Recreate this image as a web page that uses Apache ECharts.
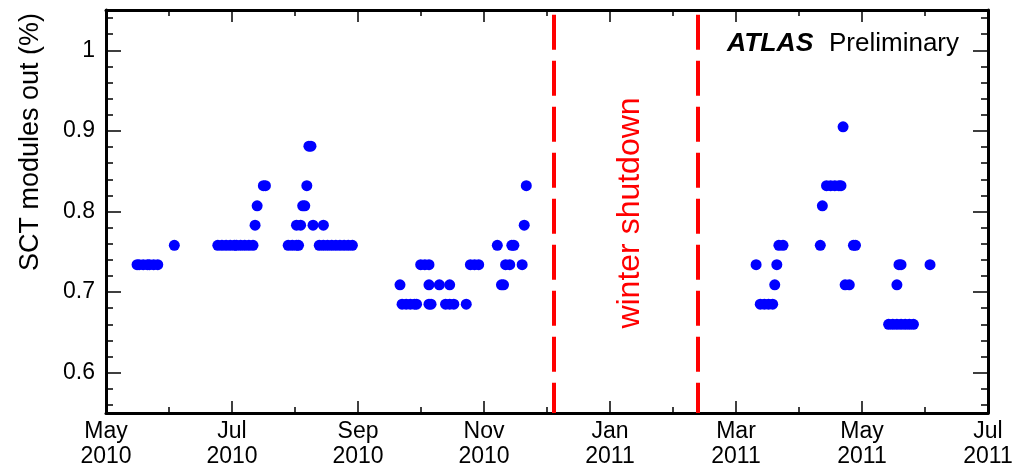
<!DOCTYPE html>
<html><head><meta charset="utf-8">
<script src="https://cdn.jsdelivr.net/npm/echarts@6/dist/echarts.min.js"></script>
<style>html,body{margin:0;padding:0;background:#fff}#c{width:1018px;height:469px}</style>
</head><body><div id="c"></div>
<script>
const FONT = '"Liberation Sans", Arial, Helvetica, sans-serif';

// ---- axis ranges and tick labels ----
const xStart = '2010-05-01';
const xEnd = '2011-07-01';
const xTickLabels = ['May\n2010', 'Jul\n2010', 'Sep\n2010', 'Nov\n2010', 'Jan\n2011', 'Mar\n2011', 'May\n2011', 'Jul\n2011'];
const yMin = 0.55, yMax = 1.05;
const yTickValues = [0.6, 0.7, 0.8, 0.9, 1.0];
const yTickLabels = ['0.6', '0.7', '0.8', '0.9', '1'];
const shutdownDates = ['2010-12-03 12:00', '2011-02-11'];

// ---- data: SCT modules out (%) ----
const summer2010Dates = [
  '2010-05-16', '2010-05-17', '2010-05-19', '2010-05-21', '2010-05-22', '2010-05-24', '2010-05-26',
  '2010-06-03',
  '2010-06-24', '2010-06-26', '2010-06-28', '2010-06-30', '2010-07-02', '2010-07-03', '2010-07-05', '2010-07-07', '2010-07-09', '2010-07-11',
  '2010-07-12', '2010-07-13', '2010-07-16', '2010-07-17',
  '2010-07-28', '2010-07-30', '2010-08-01', '2010-08-02',
  '2010-08-01', '2010-08-03', '2010-08-04', '2010-08-05', '2010-08-06', '2010-08-07', '2010-08-08',
  '2010-08-09', '2010-08-14',
  '2010-08-12', '2010-08-14', '2010-08-16', '2010-08-18', '2010-08-20', '2010-08-22', '2010-08-24', '2010-08-26', '2010-08-28'
];
const summer2010Values = [
  0.734, 0.734, 0.734, 0.734, 0.734, 0.734, 0.734,
  0.758,
  0.758, 0.758, 0.758, 0.758, 0.758, 0.758, 0.758, 0.758, 0.758, 0.758,
  0.783, 0.807, 0.832, 0.832,
  0.758, 0.758, 0.758, 0.758,
  0.783, 0.783, 0.807, 0.807, 0.832, 0.881, 0.881,
  0.783, 0.783,
  0.758, 0.758, 0.758, 0.758, 0.758, 0.758, 0.758, 0.758, 0.758
];

const autumn2010Dates = [
  '2010-09-20', '2010-09-21', '2010-09-23', '2010-09-25', '2010-09-27', '2010-09-28',
  '2010-09-30', '2010-10-02', '2010-10-04',
  '2010-10-04', '2010-10-05', '2010-10-04', '2010-10-09',
  '2010-10-12', '2010-10-14', '2010-10-16', '2010-10-14', '2010-10-22',
  '2010-10-24', '2010-10-26', '2010-10-28',
  '2010-11-06', '2010-11-08', '2010-11-09', '2010-11-10', '2010-11-12',
  '2010-11-13', '2010-11-14', '2010-11-18', '2010-11-19', '2010-11-20'
];
const autumn2010Values = [
  0.709, 0.685, 0.685, 0.685, 0.685, 0.685,
  0.734, 0.734, 0.734,
  0.685, 0.685, 0.709, 0.709,
  0.685, 0.685, 0.685, 0.709, 0.685,
  0.734, 0.734, 0.734,
  0.758, 0.709, 0.709, 0.734, 0.734,
  0.758, 0.758, 0.734, 0.783, 0.832
];

const spring2011Dates = [
  '2011-03-11', '2011-03-13', '2011-03-15', '2011-03-17', '2011-03-19',
  '2011-03-20', '2011-03-21', '2011-03-22', '2011-03-24',
  '2011-04-11', '2011-04-12', '2011-04-14', '2011-04-16', '2011-04-18', '2011-04-20', '2011-04-21',
  '2011-04-22', '2011-04-23', '2011-04-25', '2011-04-27', '2011-04-28',
  '2011-05-14', '2011-05-16', '2011-05-18', '2011-05-20', '2011-05-22', '2011-05-24', '2011-05-26',
  '2011-05-18', '2011-05-19', '2011-05-20', '2011-06-03'
];
const spring2011Values = [
  0.734, 0.685, 0.685, 0.685, 0.685,
  0.709, 0.734, 0.758, 0.758,
  0.758, 0.807, 0.832, 0.832, 0.832, 0.832, 0.832,
  0.905, 0.709, 0.709, 0.758, 0.758,
  0.660, 0.660, 0.660, 0.660, 0.660, 0.660, 0.660,
  0.709, 0.734, 0.734, 0.734
];

// ---- helpers ----
function toTime(s) {
  const m = s.match(/(\d+)-(\d+)-(\d+)(?:\s+(\d+):(\d+))?/);
  return new Date(+m[1], +m[2] - 1, +m[3], +(m[4] || 0), +(m[5] || 0)).getTime();
}
const t0 = toTime(xStart), t1 = toTime(xEnd);
const nMaj = xTickLabels.length - 1;
const majorX = xTickLabels.map((_, i) => Math.round(t0 + (t1 - t0) * i / nMaj));
const minorX = [];
for (let i = 0; i <= nMaj * 2; i++) minorX.push(Math.round(t0 + (t1 - t0) * i / (nMaj * 2)));
const minorY = [];
for (let v = 56; v <= 104; v += 2) minorY.push(v / 100);

function nearestIdx(arr, v) {
  let b = 0;
  arr.forEach((a, i) => { if (Math.abs(a - v) < Math.abs(arr[b] - v)) b = i; });
  return b;
}

const points = [];
[[summer2010Dates, summer2010Values], [autumn2010Dates, autumn2010Values], [spring2011Dates, spring2011Values]]
  .forEach(([d, v]) => d.forEach((s, i) => points.push([toTime(s), v[i]])));

const black = '#000';
const frameLine = { show: true, onZero: false, lineStyle: { color: black, width: 3 } };
const tickStyle = { color: black, width: 1.5 };
const lblFont = { fontSize: 23, fontFamily: FONT, color: black };

function xAx(pos, major) {
  return {
    type: 'value', position: pos, min: t0, max: t1, scale: true,
    axisLine: major ? frameLine : { show: false },
    axisTick: { show: true, inside: true, length: major ? 12 : 6, lineStyle: tickStyle, customValues: major ? majorX : minorX },
    axisLabel: (major && pos === 'bottom') ? Object.assign({
      show: true, customValues: majorX, formatter: v => xTickLabels[nearestIdx(majorX, v)], lineHeight: 25, margin: 6
    }, lblFont) : { show: false },
    splitLine: { show: false }, minorTick: { show: false }
  };
}
function yAx(pos, major) {
  return {
    type: 'value', position: pos, min: yMin, max: yMax,
    axisLine: major ? frameLine : { show: false },
    axisTick: { show: true, inside: true, length: major ? 15 : 7, lineStyle: tickStyle, customValues: major ? yTickValues : minorY },
    axisLabel: (major && pos === 'left') ? Object.assign({
      show: true, customValues: yTickValues, formatter: v => yTickLabels[nearestIdx(yTickValues, v)], margin: 11
    }, lblFont) : { show: false },
    splitLine: { show: false }, minorTick: { show: false }
  };
}

const chart = echarts.init(document.getElementById('c'), null, { renderer: 'canvas' });
chart.setOption({
  animation: false,
  backgroundColor: '#fff',
  grid: { left: 106, right: 30, top: 10, bottom: 54, containLabel: false },
  xAxis: [xAx('bottom', true), xAx('bottom', false), xAx('top', true), xAx('top', false)],
  yAxis: [yAx('left', true), yAx('left', false), yAx('right', true), yAx('right', false)],
  series: [{
    type: 'scatter', xAxisIndex: 0, yAxisIndex: 0,
    symbol: 'circle', symbolSize: 11,
    itemStyle: { color: '#0000ff', opacity: 1 },
    data: points,
    markLine: {
      silent: true, symbol: ['none', 'none'], label: { show: false },
      lineStyle: { color: '#ff0000', width: 4, type: [35, 11], opacity: 1 },
      data: shutdownDates.map(d => [{ coord: [toTime(d), 1.044] }, { coord: [toTime(d), yMin] }])
    }
  }],
  graphic: [
    { type: 'text', x: 31, y: 142, rotation: Math.PI / 2,
      style: { text: 'SCT modules out (%)', font: '27px ' + FONT, fill: black, align: 'center', verticalAlign: 'middle' } },
    { type: 'text', x: 630, y: 213, rotation: Math.PI / 2,
      style: { text: 'winter shutdown', font: '32px ' + FONT, fill: '#ff0000', align: 'center', verticalAlign: 'middle' } },
    { type: 'text', x: 727, y: 44,
      style: { text: 'ATLAS', font: 'italic bold 26.5px ' + FONT, fill: black, align: 'left', verticalAlign: 'middle' } },
    { type: 'text', x: 829, y: 44,
      style: { text: 'Preliminary', font: '26px ' + FONT, fill: black, align: 'left', verticalAlign: 'middle' } }
  ]
});
</script>
</body></html>
